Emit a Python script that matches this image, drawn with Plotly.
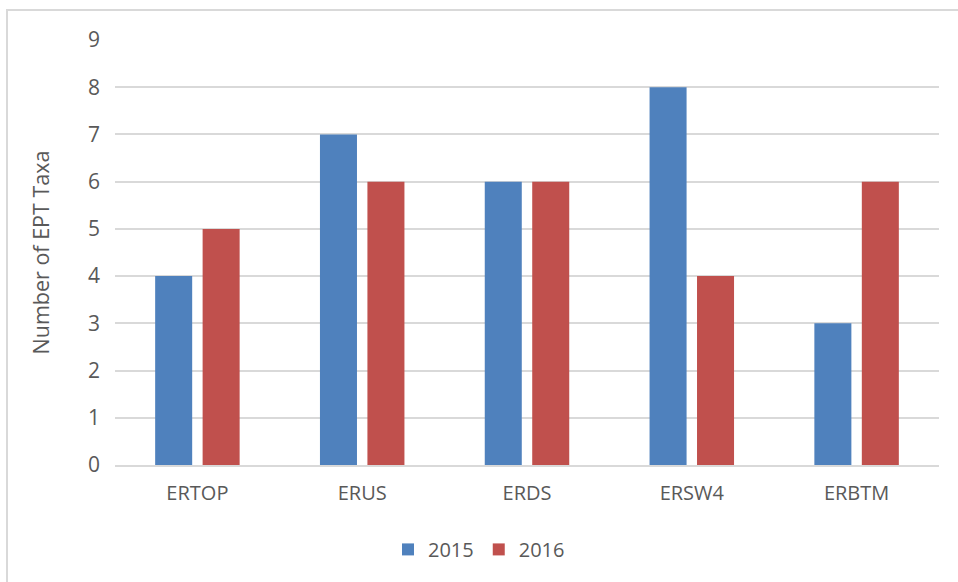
import plotly.graph_objects as go

sites = ["ERTOP", "ERUS", "ERDS", "ERSW4", "ERBTM"]
taxa_2015 = [4, 7, 6, 8, 3]
taxa_2016 = [5, 6, 6, 4, 6]
y_ticks = [0, 1, 2, 3, 4, 5, 6, 7, 8, 9]

text_color = "#595959"
grid_color = "#d9d9d9"
font_family = "'Open Sans', Lato, sans-serif"

fig = go.Figure()
fig.add_trace(go.Bar(name="2015", x=sites, y=taxa_2015, marker_color="#4F81BD",
                     marker_line_width=0))
fig.add_trace(go.Bar(name="2016", x=sites, y=taxa_2016, marker_color="#C0504D",
                     marker_line_width=0))

W, H = 958, 582
ml, mr, mt, mb = 115, 19, 40, 117
pw, ph = W - ml - mr, H - mt - mb

fig.update_layout(
    width=W, height=H,
    margin=dict(l=ml, r=mr, t=mt, b=mb),
    paper_bgcolor="white", plot_bgcolor="white",
    barmode="group", bargap=0.424, bargroupgap=0.22,
    font=dict(family=font_family, size=20, color=text_color),
    showlegend=True,
    legend=dict(orientation="h", xref="container", x=0.5, xanchor="center",
                yref="container", y=0.056, yanchor="middle",
                font=dict(size=20, color=text_color), itemwidth=30,
                traceorder="normal"),
    xaxis=dict(showgrid=False, showline=True, linecolor=grid_color, linewidth=2,
               ticks="", tickfont=dict(size=20, color=text_color),
               ticklabelstandoff=9),
    yaxis=dict(range=[0, 9], tickvals=y_ticks, showgrid=True, gridcolor=grid_color,
               gridwidth=2, zeroline=False, showline=False, ticks="",
               tickfont=dict(size=21, color=text_color), ticklabelstandoff=14,
               title=dict(text="Number of EPT Taxa", standoff=32,
                          font=dict(size=21.5, color=text_color))),
)

# light frame around the chart area
fig.add_shape(type="rect", xref="paper", yref="paper",
              x0=(7 - ml) / pw, x1=(W + 10 - ml) / pw,
              y0=-(H + 10 - mt - ph) / ph, y1=1 + (mt - 10) / ph,
              line=dict(color="#d9d9d9", width=2), fillcolor="rgba(0,0,0,0)",
              layer="below")

fig.write_html("out.html")
